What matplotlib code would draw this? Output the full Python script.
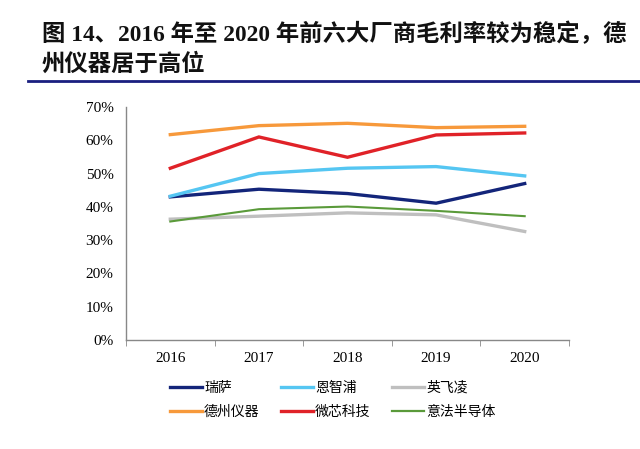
import matplotlib
matplotlib.use("Agg")
import matplotlib.pyplot as plt
from matplotlib.lines import Line2D

# data (gross margin, %)
years = ["2016", "2017", "2018", "2019", "2020"]
renesas = [43.0, 45.3, 44.0, 41.1, 47.0]
nxp = [43.2, 50.0, 51.6, 52.1, 49.3]
infineon = [36.3, 37.2, 38.2, 37.6, 32.6]
ti = [61.7, 64.4, 65.1, 63.8, 64.2]
microchip = [51.6, 61.0, 54.9, 61.6, 62.2]
st = [35.6, 39.3, 40.1, 38.8, 37.2]

names = ["瑞萨", "恩智浦", "英飞凌", "德州仪器", "微芯科技", "意法半导体"]
series = [renesas, nxp, infineon, ti, microchip, st]
colors = ["#13257a", "#55c6f2", "#bfbfbf", "#f7993b", "#e02228", "#5a9a3a"]
widths = [2.4, 2.4, 2.4, 2.4, 2.4, 1.5]

serif = ["Liberation Serif", "Noto Sans CJK SC"]
cjk = ["Noto Sans CJK SC", "DejaVu Sans"]

fig = plt.figure(figsize=(6.4, 4.49), dpi=100)
ax = fig.add_axes([126 / 640, 1 - 340 / 449, 443 / 640, 233 / 449])

x = list(range(len(years)))
for vals, c, lw, nm in zip(series, colors, widths, names):
    ax.plot(x, [v / 100 for v in vals], color=c, lw=lw, label=nm,
            solid_joinstyle="miter")

ax.set_xlim(-0.5, 4.5)
ax.set_ylim(0, 0.7)
ax.set_yticks([i / 10 for i in range(8)])
ax.set_yticklabels([f"{i * 10}%" for i in range(8)], family=serif, fontsize=11)
ax.set_xticks(x)
ax.set_xticklabels(years, family=serif, fontsize=11)
ax.set_xticks([i + 0.5 for i in range(-1, 5)], minor=True)
ax.tick_params(axis="x", which="major", length=0, pad=9)
ax.tick_params(axis="x", which="minor", length=4, color="#888888", direction="out")
ax.tick_params(axis="y", length=0, pad=9)
for s in ["top", "right"]:
    ax.spines[s].set_visible(False)
for s in ["left", "bottom"]:
    ax.spines[s].set_color("#888888")
    ax.spines[s].set_linewidth(1.0)

# legend in the reference order: row-major, so feed column-major to matplotlib
handles = [Line2D([], [], color=c, lw=2.4 if lw > 2 else 1.6) for c, lw in zip(colors, widths)]
order = [0, 3, 1, 4, 2, 5]
fig.legend([handles[i] for i in order], [names[i] for i in order],
           ncol=3, loc="center", bbox_to_anchor=(0.52, 0.109), frameon=False,
           prop={"family": cjk, "size": 10}, handlelength=2.3, handletextpad=0.15,
           columnspacing=1.55, labelspacing=0.75)

# title and its underline
fig.text(42 / 640, 1 - 34 / 449, "图 14、2016 年至 2020 年前六大厂商毛利率较为稳定，德",
         family=serif, fontsize=16.8, fontweight="bold", va="center", ha="left", color="#111111")
fig.text(42 / 640, 1 - 65 / 449, "州仪器居于高位",
         family=serif, fontsize=16.8, fontweight="bold", va="center", ha="left", color="#111111")
fig.add_artist(Line2D([28 / 640, 1.0], [1 - 80.5 / 449] * 2, color="#1a1f80", lw=2.0))

fig.savefig("out.png", dpi=100)
